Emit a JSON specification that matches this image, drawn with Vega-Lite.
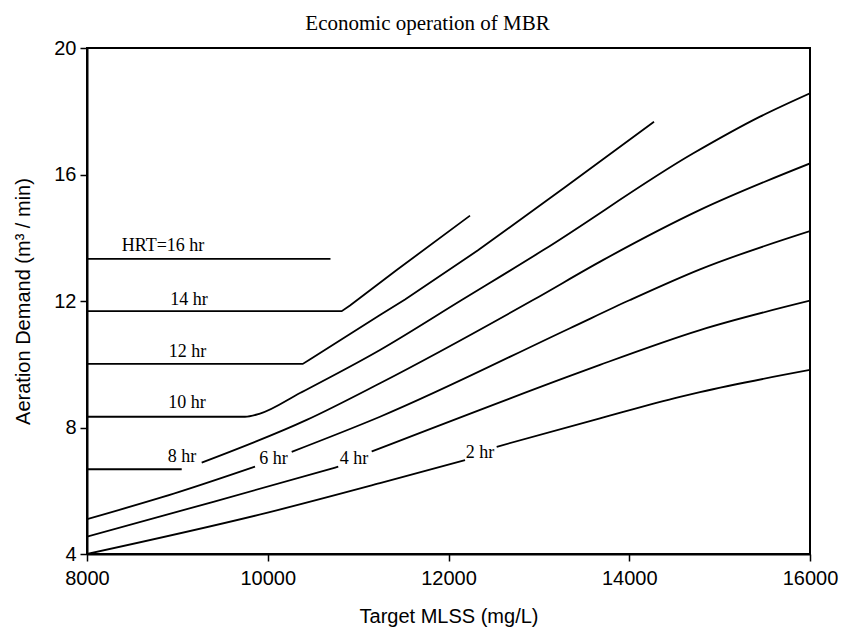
{
  "$schema": "https://vega.github.io/schema/vega-lite/v6.json",
  "width": 723,
  "height": 506,
  "autosize": {"type": "none"},
  "padding": {"left": 87, "top": 48, "right": 32, "bottom": 80},
  "background": "white",
  "config": {
    "view": {"stroke": "black", "strokeWidth": 2},
    "axis": {
      "grid": false,
      "domainColor": "black",
      "domainWidth": 2,
      "tickColor": "black",
      "tickWidth": 1.5,
      "tickSize": 7,
      "labelColor": "black",
      "titleColor": "black",
      "labelFont": "Liberation Sans",
      "titleFont": "Liberation Sans",
      "labelFontSize": 20,
      "titleFontSize": 20,
      "titleFontWeight": "normal"
    }
  },
  "title": {
    "text": "Economic operation of MBR",
    "font": "Liberation Serif",
    "fontSize": 21,
    "fontWeight": "normal",
    "color": "black",
    "offset": 4,
    "dx": -21
  },
  "datasets": {
    "curves": [
      {"hrt": "16 hr", "seg": "16", "mlss": 8000, "air": 13.33},
      {"hrt": "16 hr", "seg": "16", "mlss": 10694, "air": 13.33},
      {"hrt": "14 hr", "seg": "14", "mlss": 8000, "air": 11.68},
      {"hrt": "14 hr", "seg": "14", "mlss": 10818, "air": 11.68},
      {"hrt": "14 hr", "seg": "14", "mlss": 10910, "air": 11.86},
      {"hrt": "14 hr", "seg": "14", "mlss": 11427, "air": 12.98},
      {"hrt": "14 hr", "seg": "14", "mlss": 12238, "air": 14.7},
      {"hrt": "12 hr", "seg": "12", "mlss": 8000, "air": 10.01},
      {"hrt": "12 hr", "seg": "12", "mlss": 10387, "air": 10.01},
      {"hrt": "12 hr", "seg": "12", "mlss": 10470, "air": 10.16},
      {"hrt": "12 hr", "seg": "12", "mlss": 11242, "air": 11.56},
      {"hrt": "12 hr", "seg": "12", "mlss": 11519, "air": 12.05},
      {"hrt": "12 hr", "seg": "12", "mlss": 12330, "air": 13.61},
      {"hrt": "12 hr", "seg": "12", "mlss": 13300, "air": 15.62},
      {"hrt": "12 hr", "seg": "12", "mlss": 14274, "air": 17.67},
      {"hrt": "10 hr", "seg": "10", "mlss": 8000, "air": 8.34},
      {"hrt": "10 hr", "seg": "10", "mlss": 9748, "air": 8.34},
      {"hrt": "10 hr", "seg": "10", "mlss": 9914, "air": 8.44},
      {"hrt": "10 hr", "seg": "10", "mlss": 10357, "air": 9.09},
      {"hrt": "10 hr", "seg": "10", "mlss": 11242, "air": 10.45},
      {"hrt": "10 hr", "seg": "10", "mlss": 12146, "air": 12.03},
      {"hrt": "10 hr", "seg": "10", "mlss": 13049, "air": 13.61},
      {"hrt": "10 hr", "seg": "10", "mlss": 14709, "air": 16.67},
      {"hrt": "10 hr", "seg": "10", "mlss": 15447, "air": 17.83},
      {"hrt": "10 hr", "seg": "10", "mlss": 16000, "air": 18.57},
      {"hrt": "8 hr", "seg": "8a", "mlss": 8000, "air": 6.68},
      {"hrt": "8 hr", "seg": "8a", "mlss": 9048, "air": 6.68},
      {"hrt": "8 hr", "seg": "8b", "mlss": 9269, "air": 6.89},
      {"hrt": "8 hr", "seg": "8b", "mlss": 10431, "air": 8.24},
      {"hrt": "8 hr", "seg": "8b", "mlss": 11242, "air": 9.4},
      {"hrt": "8 hr", "seg": "8b", "mlss": 12935, "air": 12.03},
      {"hrt": "8 hr", "seg": "8b", "mlss": 13713, "air": 13.3},
      {"hrt": "8 hr", "seg": "8b", "mlss": 14783, "air": 14.88},
      {"hrt": "8 hr", "seg": "8b", "mlss": 16000, "air": 16.35},
      {"hrt": "6 hr", "seg": "6a", "mlss": 8000, "air": 5.1},
      {"hrt": "6 hr", "seg": "6a", "mlss": 9029, "air": 5.97},
      {"hrt": "6 hr", "seg": "6a", "mlss": 9859, "air": 6.76},
      {"hrt": "6 hr", "seg": "6b", "mlss": 10265, "air": 7.23},
      {"hrt": "6 hr", "seg": "6b", "mlss": 11242, "air": 8.34},
      {"hrt": "6 hr", "seg": "6b", "mlss": 13344, "air": 11.14},
      {"hrt": "6 hr", "seg": "6b", "mlss": 14008, "air": 12.03},
      {"hrt": "6 hr", "seg": "6b", "mlss": 14783, "air": 13.0},
      {"hrt": "6 hr", "seg": "6b", "mlss": 16000, "air": 14.21},
      {"hrt": "4 hr", "seg": "4a", "mlss": 8000, "air": 4.55},
      {"hrt": "4 hr", "seg": "4a", "mlss": 9398, "air": 5.65},
      {"hrt": "4 hr", "seg": "4a", "mlss": 10780, "air": 6.76},
      {"hrt": "4 hr", "seg": "4b", "mlss": 11150, "air": 7.24},
      {"hrt": "4 hr", "seg": "4b", "mlss": 13344, "air": 9.63},
      {"hrt": "4 hr", "seg": "4b", "mlss": 13676, "air": 9.98},
      {"hrt": "4 hr", "seg": "4b", "mlss": 14783, "air": 11.08},
      {"hrt": "4 hr", "seg": "4b", "mlss": 16000, "air": 12.01},
      {"hrt": "2 hr", "seg": "2a", "mlss": 8000, "air": 4.0},
      {"hrt": "2 hr", "seg": "2a", "mlss": 9988, "air": 5.3},
      {"hrt": "2 hr", "seg": "2a", "mlss": 11242, "air": 6.24},
      {"hrt": "2 hr", "seg": "2a", "mlss": 12183, "air": 6.97},
      {"hrt": "2 hr", "seg": "2b", "mlss": 12533, "air": 7.39},
      {"hrt": "2 hr", "seg": "2b", "mlss": 13676, "air": 8.29},
      {"hrt": "2 hr", "seg": "2b", "mlss": 14561, "air": 8.97},
      {"hrt": "2 hr", "seg": "2b", "mlss": 14783, "air": 9.12},
      {"hrt": "2 hr", "seg": "2b", "mlss": 16000, "air": 9.82}
    ],
    "labels": [
      {"label": "HRT=16 hr", "mlss": 8841, "air": 13.74},
      {"label": "14 hr", "mlss": 9129, "air": 12.03},
      {"label": "12 hr", "mlss": 9112, "air": 10.39},
      {"label": "10 hr", "mlss": 9107, "air": 8.76},
      {"label": "8 hr", "mlss": 9051, "air": 7.07},
      {"label": "6 hr", "mlss": 10064, "air": 7.0},
      {"label": "4 hr", "mlss": 10954, "air": 7.0},
      {"label": "2 hr", "mlss": 12349, "air": 7.19}
    ]
  },
  "encoding": {
    "x": {
      "field": "mlss",
      "type": "quantitative",
      "scale": {"domain": [8000, 16000], "nice": false},
      "axis": {
        "title": "Target MLSS (mg/L)",
        "values": [8000, 10000, 12000, 14000, 16000],
        "format": "d",
        "labelPadding": 7,
        "titlePadding": 18,
        "labelFlush": false
      }
    },
    "y": {
      "field": "air",
      "type": "quantitative",
      "scale": {"domain": [4, 20], "nice": false},
      "axis": {
        "title": "Aeration Demand (m³ / min)",
        "values": [4, 8, 12, 16, 20],
        "labelPadding": 4,
        "titlePadding": 20,
        "labelFlush": false
      }
    }
  },
  "layer": [
    {
      "data": {"name": "curves"},
      "transform": [{"filter": "datum.seg == '16' || datum.seg == '14' || datum.seg == '12'"}],
      "mark": {"type": "line", "color": "black", "strokeWidth": 1.8, "interpolate": "linear", "clip": true},
      "encoding": {"detail": {"field": "seg"}}
    },
    {
      "data": {"name": "curves"},
      "transform": [{"filter": "datum.seg != '16' && datum.seg != '14' && datum.seg != '12'"}],
      "mark": {"type": "line", "color": "black", "strokeWidth": 1.8, "interpolate": "monotone", "clip": true},
      "encoding": {"detail": {"field": "seg"}}
    },
    {
      "data": {"name": "labels"},
      "mark": {"type": "text", "font": "Liberation Serif", "fontSize": 18, "color": "black", "baseline": "middle", "align": "center"},
      "encoding": {
        "text": {"field": "label"}
      }
    }
  ]
}
